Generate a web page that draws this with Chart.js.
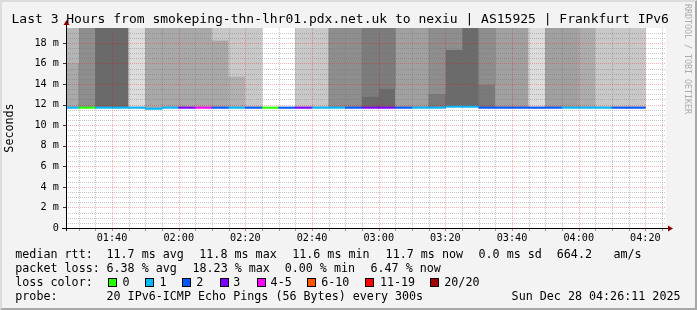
<!DOCTYPE html>
<html>
<head>
<meta charset="utf-8">
<script src="https://cdn.jsdelivr.net/npm/chart.js@4/dist/chart.umd.min.js"></script>
<style>
html,body{margin:0;padding:0;background:#f3f3f3;}
#wrap{position:relative;width:697px;height:310px;overflow:hidden;background:#f3f3f3;}
#wrap canvas{position:absolute;left:0;top:0;}
.t{position:absolute;white-space:pre;font-family:'DejaVu Sans Mono',monospace;color:#000;}
.title{font-size:13px;line-height:15px;}
.lg{font-size:11.7px;line-height:14px;}
.bx{position:absolute;width:7px;height:7px;border:1px solid #000;}
.wm{position:absolute;font-family:'DejaVu Sans Mono',monospace;font-size:8.3px;line-height:9px;color:#ababab;writing-mode:vertical-rl;white-space:pre;}
#frame{position:absolute;left:0;top:0;width:697px;height:310px;box-sizing:border-box;border-style:solid;border-width:2px;border-color:#dcdcdc #a8a8a8 #a8a8a8 #dcdcdc;pointer-events:none;}
</style>
</head>
<body>
<div id="wrap">
  <canvas id="c" width="697" height="310"></canvas>
  <div id="frame"></div>
</div>
<script>
// ---------------- data ----------------
const chartTitle = 'Last 3 Hours from smokeping-thn-lhr01.pdx.net.uk to nexiu | AS15925 | Frankfurt IPv6';
const graphEnd = '04:26:11';
const graphHours = 3;

// 5-minute sample end times
const sampleEndTimes = ['01:30','01:35','01:40','01:45','01:50','01:55','02:00','02:05','02:10','02:15',
  '02:20','02:25','02:30','02:35','02:40','02:45','02:50','02:55','03:00','03:05',
  '03:10','03:15','03:20','03:25','03:30','03:35','03:40','03:45','03:50','03:55',
  '04:00','04:05','04:10','04:15','04:20'];
// median round trip time (ms)
const medianRttMs = [11.7,11.7,11.7,11.7,11.7,11.6,11.7,11.7,11.7,11.7,
  11.7,11.7,11.7,11.7,11.7,11.7,11.7,11.7,11.7,11.7,
  11.7,11.7,11.7,11.8,11.8,11.7,11.7,11.7,11.7,11.7,
  11.7,11.7,11.7,11.7,11.7];
// lost pings out of 20
const lostPings = [1,0,1,1,1,1,1,3,4,2,
  1,2,0,2,3,1,1,2,3,3,
  2,1,1,1,1,2,2,2,2,2,
  1,1,1,2,2];
// smoke: lower band grey level (null = no smoke), boundary (ms) and upper band grey level
const smokeLowerGrey = [169,142,106,106,220,168,168,168,168,168,
  177,200,null,null,200,200,142,142,106,106,
  160,160,122,107,107,122,160,160,220,160,
  160,172,200,200,200];
const smokeSplitMs = [16.05,null,null,null,null,null,null,null,null,18.26,
  14.75,null,null,null,null,null,null,null,12.8,13.55,
  null,null,13.06,17.35,null,13.97,null,null,null,null,
  null,null,null,null,null];
const smokeUpperGrey = [181,null,null,null,null,null,null,null,null,200,
  201,null,null,null,null,null,null,null,124,124,
  null,null,142,142,null,142,null,null,null,null,
  null,null,null,null,null];

const yMaxMs = 19.45;
const xTickLabels = ['01:40','02:00','02:20','02:40','03:00','03:20','03:40','04:00','04:20'];
const yTickLabels = ['0','2 m','4 m','6 m','8 m','10 m','12 m','14 m','16 m','18 m'];

const lossBuckets = ['0','1','2','3','4-5','6-10','11-19','20/20'];
const lossColors = ['#26ff00','#00b8ff','#0059ff','#7e00ff','#ff00ff','#ff5500','#ff0000','#a10000'];

const rttStats = ['11.7 ms avg','11.8 ms max','11.6 ms min','11.7 ms now','0.0 ms sd','664.2','am/s'];
const lossStats = ['6.38 % avg','18.23 % max','0.00 % min','6.47 % now'];
const probeText = '20 IPv6-ICMP Echo Pings (56 Bytes) every 300s';
const dateText = 'Sun Dec 28 04:26:11 2025';
const watermark = 'RRDTOOL / TOBI OETIKER';

// ---------------- helpers ----------------
const toMin = s => { const p = s.split(':').map(Number); return p[0]*60 + p[1] + (p[2]||0)/60; };
const fmt = v => { const h = Math.floor(v/60), m = Math.round(v - h*60); return String(h).padStart(2,'0')+':'+String(m).padStart(2,'0'); };
const bucketOf = n => n === 0 ? 0 : n === 1 ? 1 : n === 2 ? 2 : n === 3 ? 3 : n <= 5 ? 4 : n <= 10 ? 5 : n <= 19 ? 6 : 7;
const grey = g => `rgb(${g},${g},${g})`;
const isMajorX = v => Math.abs(v % 20) < 1e-6;
const isMajorY = v => Math.abs(v % 2) < 1e-6;

const xMax = toMin(graphEnd), xMin = xMax - graphHours*60;
const centers = sampleEndTimes.map(t => toMin(t) - 2.5);

const medianData = [], medianCols = [], lowData = [], lowCols = [], highData = [], highCols = [];
sampleEndTimes.forEach((t, i) => {
  const m = medianRttMs[i];
  medianData.push({x: centers[i], y: [m - 0.07, m + 0.07]});
  medianCols.push(lossColors[bucketOf(lostPings[i])]);
  if (smokeLowerGrey[i] !== null) {
    const split = smokeSplitMs[i] !== null ? smokeSplitMs[i] : yMaxMs;
    lowData.push({x: centers[i], y: [m, split]});
    lowCols.push(grey(smokeLowerGrey[i]));
    if (smokeSplitMs[i] !== null) {
      highData.push({x: centers[i], y: [smokeSplitMs[i], yMaxMs]});
      highCols.push(grey(smokeUpperGrey[i]));
    }
  }
});

const barCommon = {grouped: false, barPercentage: 1, categoryPercentage: 1, borderWidth: 0, clip: 0};

// ---------------- text overlays ----------------
const wrap = document.getElementById('wrap');
function addText(cls, txt, left, top) {
  const d = document.createElement('div');
  d.className = 't ' + cls; d.textContent = txt;
  d.style.left = left + 'px'; d.style.top = top + 'px';
  wrap.appendChild(d); return d;
}
addText('title', chartTitle, 11.5, 11);
const rowTop = [247, 261, 275, 289];
addText('lg', 'median rtt:', 15.3, rowTop[0]);
[106.5, 199.3, 292.2, 385.6, 478.5, 556.8, 613.5].forEach((x, i) => addText('lg', rttStats[i], x, rowTop[0]));
addText('lg', 'packet loss:', 15.3, rowTop[1]);
[106.5, 192.5, 284.7, 370.5].forEach((x, i) => addText('lg', lossStats[i], x, rowTop[1]));
addText('lg', 'loss color:', 15.3, rowTop[2]);
const boxX = [108, 145, 182, 219.5, 256.5, 307, 365, 430];
const boxLabelX = [122.6, 159.4, 196.3, 233.2, 270.6, 321.2, 379.9, 444.3];
lossBuckets.forEach((b, i) => {
  const s = document.createElement('div'); s.className = 'bx';
  s.style.left = boxX[i] + 'px'; s.style.top = (rowTop[2] + 3) + 'px'; s.style.background = lossColors[i];
  wrap.appendChild(s);
  addText('lg', b, boxLabelX[i], rowTop[2]);
});
addText('lg', 'probe:', 15.3, rowTop[3]);
addText('lg', probeText, 106.5, rowTop[3]);
const dd = addText('lg', dateText, 0, rowTop[3]); dd.style.left = ''; dd.style.right = '16.5px';
const wm = document.createElement('div'); wm.className = 'wm'; wm.textContent = watermark;
wm.style.left = '682.5px'; wm.style.top = '4px'; wrap.appendChild(wm);
wrap.appendChild(document.getElementById('frame'));

// ---------------- chart ----------------
const majorGrid = 'rgba(255,0,0,0.3)', minorGrid = 'rgba(110,110,110,0.38)';

const rrdPlugin = {
  id: 'rrdGraph',
  beforeDraw(chart) {
    const {ctx, chartArea: a} = chart;
    ctx.save(); ctx.fillStyle = '#ffffff';
    ctx.fillRect(a.left, a.top, a.right - a.left, a.bottom - a.top);
    ctx.restore();
  },
  afterDatasetsDraw(chart) {
    const {ctx, chartArea: a} = chart;
    const xs = chart.scales.x, ys = chart.scales.y;
    ctx.save();
    ctx.lineWidth = 1;
    const line = (x1, y1, x2, y2, col, dash) => {
      ctx.setLineDash(dash); ctx.strokeStyle = col;
      ctx.beginPath(); ctx.moveTo(x1, y1); ctx.lineTo(x2, y2); ctx.stroke();
    };
    // minor grid first, then major
    [false, true].forEach(major => {
      xs.ticks.forEach(t => {
        if (isMajorX(t.value) !== major) return;
        const px = Math.round(xs.getPixelForValue(t.value)) + 0.5;
        line(px, a.top, px, a.bottom, major ? majorGrid : minorGrid, [1, 1]);
        line(px, a.bottom + 1, px, a.bottom + 3, major ? '#d27a7a' : '#9a9a9a', []);
      });
      ys.ticks.forEach(t => {
        if (isMajorY(t.value) !== major) return;
        const py = Math.round(ys.getPixelForValue(t.value)) + 0.5;
        line(a.left, py, a.right, py, major ? majorGrid : minorGrid, [1, 1]);
        if (major) line(a.left - 3, py, a.left, py, '#333', []);
      });
    });
    ctx.restore();
  },
  afterDraw(chart) {
    const {ctx, chartArea: a} = chart;
    const y0 = Math.round(a.bottom) + 0.5, x0 = Math.round(a.left) + 0.5;
    ctx.save();
    ctx.strokeStyle = '#000'; ctx.lineWidth = 1; ctx.setLineDash([]);
    ctx.beginPath();
    ctx.moveTo(a.left - 4, y0); ctx.lineTo(a.right + 2, y0);
    ctx.moveTo(x0, a.bottom + 3); ctx.lineTo(x0, a.top - 3);
    ctx.stroke();
    ctx.fillStyle = '#8b0000';
    ctx.beginPath(); ctx.moveTo(a.right + 2, y0 - 3); ctx.lineTo(a.right + 7, y0); ctx.lineTo(a.right + 2, y0 + 3); ctx.closePath(); ctx.fill();
    ctx.beginPath(); ctx.moveTo(x0 - 3, a.top - 3); ctx.lineTo(x0, a.top - 8); ctx.lineTo(x0 + 3, a.top - 3); ctx.closePath(); ctx.fill();
    ctx.restore();
  }
};

const axisFont = {family: "'DejaVu Sans Mono'", size: 10.2};

new Chart(document.getElementById('c'), {
  type: 'bar',
  data: {
    datasets: [
      Object.assign({label: 'median', data: medianData, backgroundColor: medianCols}, barCommon),
      Object.assign({label: 'smoke upper', data: highData, backgroundColor: highCols}, barCommon),
      Object.assign({label: 'smoke lower', data: lowData, backgroundColor: lowCols}, barCommon)
    ]
  },
  options: {
    responsive: false, animation: false, devicePixelRatio: 1,
    layout: {padding: {left: 0, top: 28, right: 31, bottom: 62}},
    plugins: {legend: {display: false}, tooltip: {enabled: false}, title: {display: false}},
    scales: {
      x: {
        type: 'linear', min: xMin, max: xMax, offset: false,
        afterBuildTicks: s => { const t = []; for (let v = Math.ceil(xMin/5)*5; v < xMax; v += 5) t.push({value: v}); s.ticks = t; },
        afterFit: s => { s.height = 20; },
        grid: {offset: false, drawOnChartArea: false, drawTicks: false, color: 'rgba(0,0,0,0)'},
        border: {display: false},
        ticks: {autoSkip: false, maxRotation: 0, minRotation: 0, padding: 4, color: '#000', font: axisFont,
          callback: v => { const s = fmt(v); return xTickLabels.includes(s) ? s : ''; }}
      },
      y: {
        type: 'linear', min: 0, max: yMaxMs,
        afterBuildTicks: s => { const t = []; for (let k = 0; k * 0.5 < yMaxMs; k++) t.push({value: k * 0.5}); s.ticks = t; },
        afterFit: s => { s.width = 66; },
        title: {display: true, text: 'Seconds', color: '#000', font: {family: "'DejaVu Sans Mono'", size: 11.7}, padding: {top: 3, bottom: 0}},
        grid: {drawOnChartArea: false, drawTicks: false, color: 'rgba(0,0,0,0)'},
        border: {display: false},
        ticks: {autoSkip: false, padding: 7, color: '#000', font: axisFont,
          callback: v => (isMajorY(v) ? (yTickLabels[Math.round(v / 2)] || '') : '')}
      }
    }
  },
  plugins: [rrdPlugin]
});
</script>
</body>
</html>
